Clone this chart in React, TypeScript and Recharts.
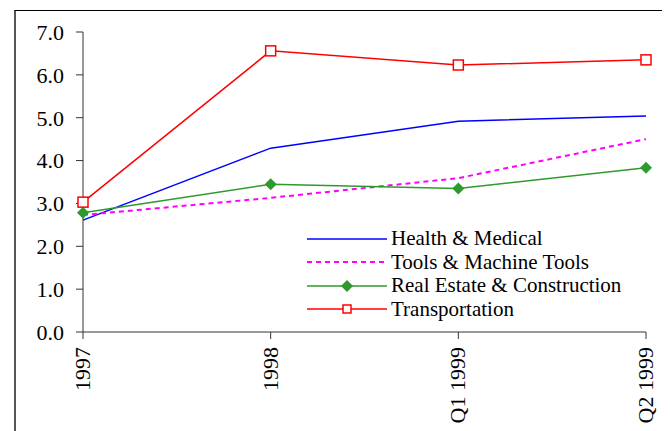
import { Line, LineChart, XAxis, YAxis } from "recharts";

const periods = ["1997", "1998", "Q1 1999", "Q2 1999"];
const healthMedical = [2.61, 4.29, 4.92, 5.04];
const toolsMachine = [2.73, 3.13, 3.59, 4.5];
const realEstate = [2.78, 3.45, 3.35, 3.83];
const transportation = [3.03, 6.56, 6.23, 6.35];
const yTicks = [0, 1, 2, 3, 4, 5, 6, 7];

const data = periods.map((p, i) => ({
  period: p,
  health: healthMedical[i],
  tools: toolsMachine[i],
  realEstate: realEstate[i],
  transport: transportation[i],
}));

const FONT = "Liberation Serif, Times New Roman, serif";
const AXIS = "#333333";

const series = [
  { key: "health", name: "Health & Medical", color: "#0000ff", dash: undefined, width: 1.5, marker: "none" },
  { key: "tools", name: "Tools & Machine Tools", color: "#ff00ff", dash: "5 4", width: 2, marker: "none" },
  { key: "realEstate", name: "Real Estate & Construction", color: "#2e9a2e", dash: undefined, width: 1.5, marker: "diamond" },
  { key: "transport", name: "Transportation", color: "#ff0000", dash: undefined, width: 1.5, marker: "square" },
];

function Square(props: any) {
  const { cx, cy } = props;
  if (cx == null || cy == null) return null;
  return <rect x={cx - 5} y={cy - 5} width={10} height={10} fill="#fff" stroke="#ff0000" strokeWidth={1.5} />;
}

function Diamond(props: any) {
  const { cx, cy } = props;
  if (cx == null || cy == null) return null;
  const r = 6;
  return <polygon points={`${cx},${cy - r} ${cx + r},${cy} ${cx},${cy + r} ${cx - r},${cy}`} fill="#2e9a2e" />;
}

function XTick(props: any) {
  const { x, y, payload } = props;
  return (
    <text
      transform={`translate(${x + 7},${y + 6}) rotate(-90)`}
      textAnchor="end"
      style={{ fontFamily: FONT, fontSize: 22 }}
      fill="#000"
    >
      {payload.value}
    </text>
  );
}

function LegendBox() {
  return (
    <div style={{ position: "absolute", left: 291, top: 216, fontFamily: FONT, fontSize: 21, color: "#000" }}>
      {series.map((s) => (
        <div key={s.key} style={{ display: "flex", alignItems: "center", height: 23.5 }}>
          <svg width={84} height={14}>
            <line x1={0} y1={7} x2={80} y2={7} stroke={s.color} strokeWidth={s.width} strokeDasharray={s.dash} />
            {s.marker === "square" && <rect x={36} y={3} width={8} height={8} fill="#fff" stroke={s.color} strokeWidth={1.5} />}
            {s.marker === "diamond" && <polygon points="40,1 46,7 40,13 34,7" fill={s.color} />}
          </svg>
          <span style={{ whiteSpace: "nowrap" }}>{s.name}</span>
        </div>
      ))}
    </div>
  );
}

export default function App() {
  return (
    <div
      style={{
        position: "relative",
        marginLeft: 6,
        marginTop: 2,
        width: 651,
        height: 430,
        borderTop: "1px solid #000",
        borderLeft: "2px solid #555",
        borderRight: "2px solid #333",
        fontFamily: FONT,
      }}
    >
      <LineChart width={651} height={421} data={data} margin={{ top: 21, right: 21, left: 0, bottom: 0 }}>
        <XAxis
          dataKey="period"
          height={100}
          interval={0}
          stroke={AXIS}
          tickSize={7}
          tick={<XTick />}
          padding={{ left: 0, right: 0 }}
        />
        <YAxis
          width={67}
          domain={[0, 7]}
          ticks={yTicks}
          interval={0}
          stroke={AXIS}
          tickSize={7}
          tickMargin={12}
          tickFormatter={(v: number) => v.toFixed(1)}
          tick={{ fontSize: 22, fill: "#000", style: { fontFamily: FONT } }}
        />
        {series.map((s) => (
          <Line
            key={s.key}
            type="linear"
            dataKey={s.key}
            name={s.name}
            stroke={s.color}
            strokeWidth={s.width}
            strokeDasharray={s.dash}
            dot={s.marker === "square" ? <Square /> : s.marker === "diamond" ? <Diamond /> : false}
            activeDot={false}
            isAnimationActive={false}
          />
        ))}
      </LineChart>
      <LegendBox />
    </div>
  );
}
